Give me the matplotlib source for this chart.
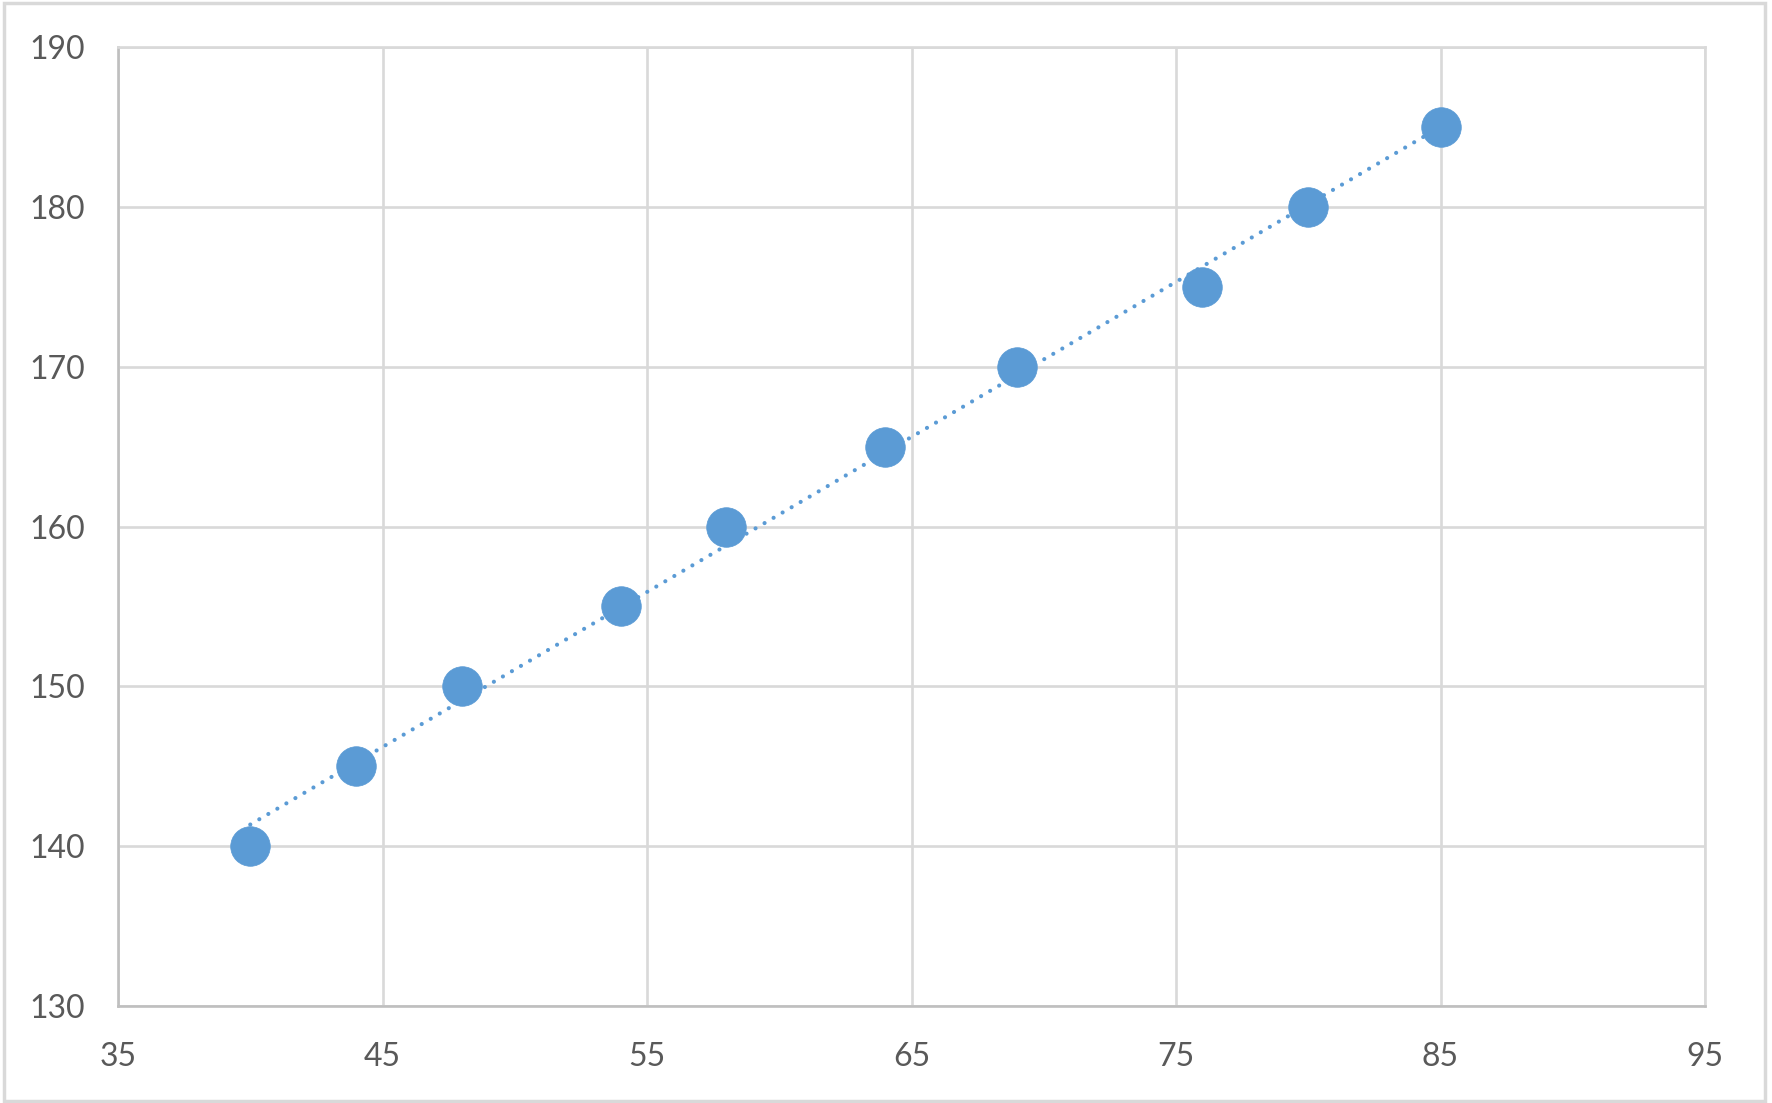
import matplotlib.pyplot as plt
import numpy as np
from matplotlib.patches import Rectangle

# data
weight = [40, 44, 48, 54, 58, 64, 69, 76, 80, 85]
height = [140, 145, 150, 155, 160, 165, 170, 175, 180, 185]
x_ticks = [35, 45, 55, 65, 75, 85, 95]
y_ticks = [130, 140, 150, 160, 170, 180, 190]

blue = '#5B9BD5'
grid_col = '#D9D9D9'
text_col = '#595959'

plt.rcParams['font.family'] = ['Lato', 'DejaVu Sans']

fig = plt.figure(figsize=(17.72, 11.03), dpi=100)
ax = fig.add_axes([0.0666, 0.0879, 0.8956, 0.8695])

# linear trendline over the data range
k, b = np.polyfit(weight, height, 1)
xs = np.array([min(weight), max(weight)])
ax.plot(xs, k * xs + b, color=blue, lw=3.0, linestyle=(0, (0.01, 2.5)),
        dash_capstyle='round', zorder=2)

ax.plot(weight, height, 'o', color=blue, ms=28.5, mec=blue, mew=0.5,
        linestyle='none', zorder=3)

ax.set_xlim(35, 95)
ax.set_ylim(130, 190)
ax.set_xticks(x_ticks)
ax.set_yticks(y_ticks)
ax.grid(True, color=grid_col, lw=1.9, zorder=0)
ax.set_axisbelow(True)
ax.tick_params(length=0, labelsize=23, labelcolor=text_col, pad=26)
ax.tick_params(axis='y', pad=24)
for s in ['top', 'right']:
    ax.spines[s].set_color(grid_col)
    ax.spines[s].set_linewidth(1.9)
for s in ['left', 'bottom']:
    ax.spines[s].set_color('#BFBFBF')
    ax.spines[s].set_linewidth(1.9)

# chart area border
fig.patches.append(Rectangle((0.002, 0.002), 0.994, 0.995, transform=fig.transFigure,
                             fill=False, edgecolor=grid_col, lw=2.5))

fig.savefig('out.png', dpi=100)
